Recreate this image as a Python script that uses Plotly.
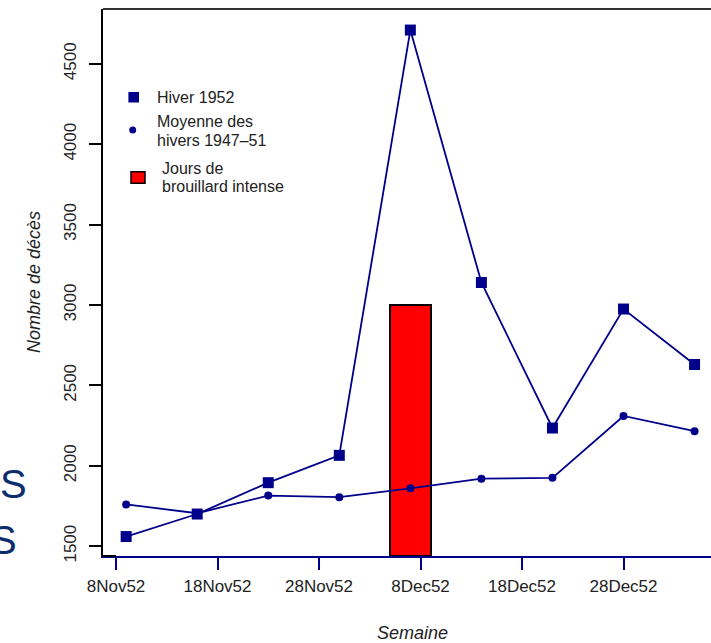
import pandas as pd
import plotly.graph_objects as go

# ---------------- data ----------------
weeks = ["1952-11-09", "1952-11-16", "1952-11-23", "1952-11-30", "1952-12-07",
         "1952-12-14", "1952-12-21", "1952-12-28", "1953-01-04"]
hiver_1952 = [1560, 1700, 1895, 2065, 4710, 3140, 2235, 2975, 2630]
moyenne_1947_51 = [1760, 1705, 1815, 1805, 1860, 1920, 1925, 2310, 2215]

fog_start = "1952-12-05"
fog_end = "1952-12-09"
fog_top = 3000

x_tick_dates = ["1952-11-08", "1952-11-18", "1952-11-28", "1952-12-08",
                "1952-12-18", "1952-12-28"]
x_tick_labels = ["8Nov52", "18Nov52", "28Nov52", "8Dec52", "18Dec52", "28Dec52"]
y_tick_vals = [1500, 2000, 2500, 3000, 3500, 4000, 4500]
y_tick_labels = [str(v) for v in y_tick_vals]

# ---------------- layout constants ----------------
W, H = 711, 643
L, R, T, B = 103, 0, 9, 87
PW, PH = W - L - R, H - T - B
X_RANGE = ["1952-11-06 17:16", "1953-01-05 14:53"]
Y_RANGE = [1439, 4841]
NAVY = "#00008B"
TXT = "#222222"
FONT = "Liberation Sans, Arial, sans-serif"


def px(xp):
    return (xp - L) / PW


def py(yp):
    return (H - B - yp) / PH


fs = pd.Timestamp(fog_start)
fe = pd.Timestamp(fog_end)
fog_mid = fs + (fe - fs) / 2
fog_width_ms = (fe - fs).total_seconds() * 1000

fig = go.Figure()

fig.add_trace(go.Bar(
    x=[fog_mid], y=[fog_top - Y_RANGE[0]], base=[Y_RANGE[0]],
    width=[fog_width_ms],
    marker=dict(color="#FF0000", line=dict(color="#000000", width=2)),
    showlegend=False, hoverinfo="skip",
))

fig.add_trace(go.Scatter(
    x=weeks, y=moyenne_1947_51, mode="lines+markers",
    line=dict(color=NAVY, width=1.8),
    marker=dict(symbol="circle", size=8, color=NAVY),
    showlegend=False,
))

fig.add_trace(go.Scatter(
    x=weeks, y=hiver_1952, mode="lines+markers",
    line=dict(color=NAVY, width=1.8),
    marker=dict(symbol="square", size=11, color=NAVY),
    showlegend=False,
))

shapes = [
    # top frame line
    dict(type="line", xref="paper", yref="paper", x0=0, x1=1, y0=1, y1=1,
         line=dict(color="#333333", width=2)),
    # black frame bottom, left of first x tick
    dict(type="line", xref="paper", yref="paper", x0=0, x1=px(116), y0=0, y1=0,
         line=dict(color="#000000", width=2)),
    # legend symbols
    dict(type="rect", xref="paper", yref="paper",
         x0=px(128.4), x1=px(139), y0=py(102.5), y1=py(92),
         fillcolor=NAVY, line=dict(width=0)),
    dict(type="circle", xref="paper", yref="paper",
         x0=px(129.2), x1=px(136.2), y0=py(133.5), y1=py(126.5),
         fillcolor=NAVY, line=dict(width=0)),
    dict(type="rect", xref="paper", yref="paper",
         x0=px(131), x1=px(145), y0=py(183.3), y1=py(171.7),
         fillcolor="#FF0000", line=dict(color="#000000", width=1.5)),
]

annotations = []


def add_text(text, xp, yp, size=16, **kw):
    d = dict(text=text, x=px(xp), y=py(yp), xref="paper", yref="paper",
             showarrow=False, xanchor="left", yanchor="middle",
             font=dict(family=FONT, size=size, color=TXT))
    d.update(kw)
    annotations.append(d)


add_text("Hiver 1952", 155, 97.5)
add_text("Moyenne des", 155, 121.5)
add_text("hivers 1947\u201351", 155, 140)
add_text("Jours de", 160, 169)
add_text("brouillard intense", 160, 186.5)

# axis titles
annotations.append(dict(text="<i>Nombre de décès</i>", x=px(34), y=py(282),
                        xref="paper", yref="paper", showarrow=False,
                        textangle=-90, xanchor="center", yanchor="middle",
                        font=dict(family=FONT, size=18, color=TXT)))
annotations.append(dict(text="<i>Semaine</i>", x=px(412), y=py(633),
                        xref="paper", yref="paper", showarrow=False,
                        xanchor="center", yanchor="middle",
                        font=dict(family=FONT, size=18, color=TXT)))

# slide background letters at the left edge
for xc, yc in [(13, 484), (3, 540)]:
    annotations.append(dict(text="S", x=px(xc), y=py(yc), xref="paper", yref="paper",
                            showarrow=False, xanchor="center", yanchor="middle",
                            font=dict(family="Liberation Sans, Arial, sans-serif", size=40,
                                      color="#0C2D6B")))

fig.update_layout(
    width=W, height=H,
    margin=dict(l=L, r=R, t=T, b=B, pad=0, autoexpand=False),
    paper_bgcolor="white", plot_bgcolor="white",
    shapes=shapes, annotations=annotations,
    showlegend=False, bargap=0,
    xaxis=dict(
        type="date", range=X_RANGE, tickmode="array",
        tickvals=x_tick_dates, ticktext=x_tick_labels,
        showgrid=False, zeroline=False, automargin=False,
        showline=True, linecolor=NAVY, linewidth=2,
        ticks="outside", ticklen=12, tickwidth=2, tickcolor=NAVY,
        ticklabelstandoff=2,
        tickfont=dict(family=FONT, size=17, color=TXT),
    ),
    yaxis=dict(
        range=Y_RANGE, tickmode="array", tickvals=y_tick_vals, ticktext=y_tick_labels,
        showgrid=False, zeroline=False, automargin=False,
        showline=True, linecolor="#000000", linewidth=2,
        ticks="outside", ticklen=12, tickwidth=2, tickcolor="#000000",
        tickangle=-90, ticklabelstandoff=6,
        tickfont=dict(family=FONT, size=17, color=TXT),
    ),
)

fig.write_html("out.html", config={"displayModeBar": False},
               post_script="document.body.style.margin='0';")
